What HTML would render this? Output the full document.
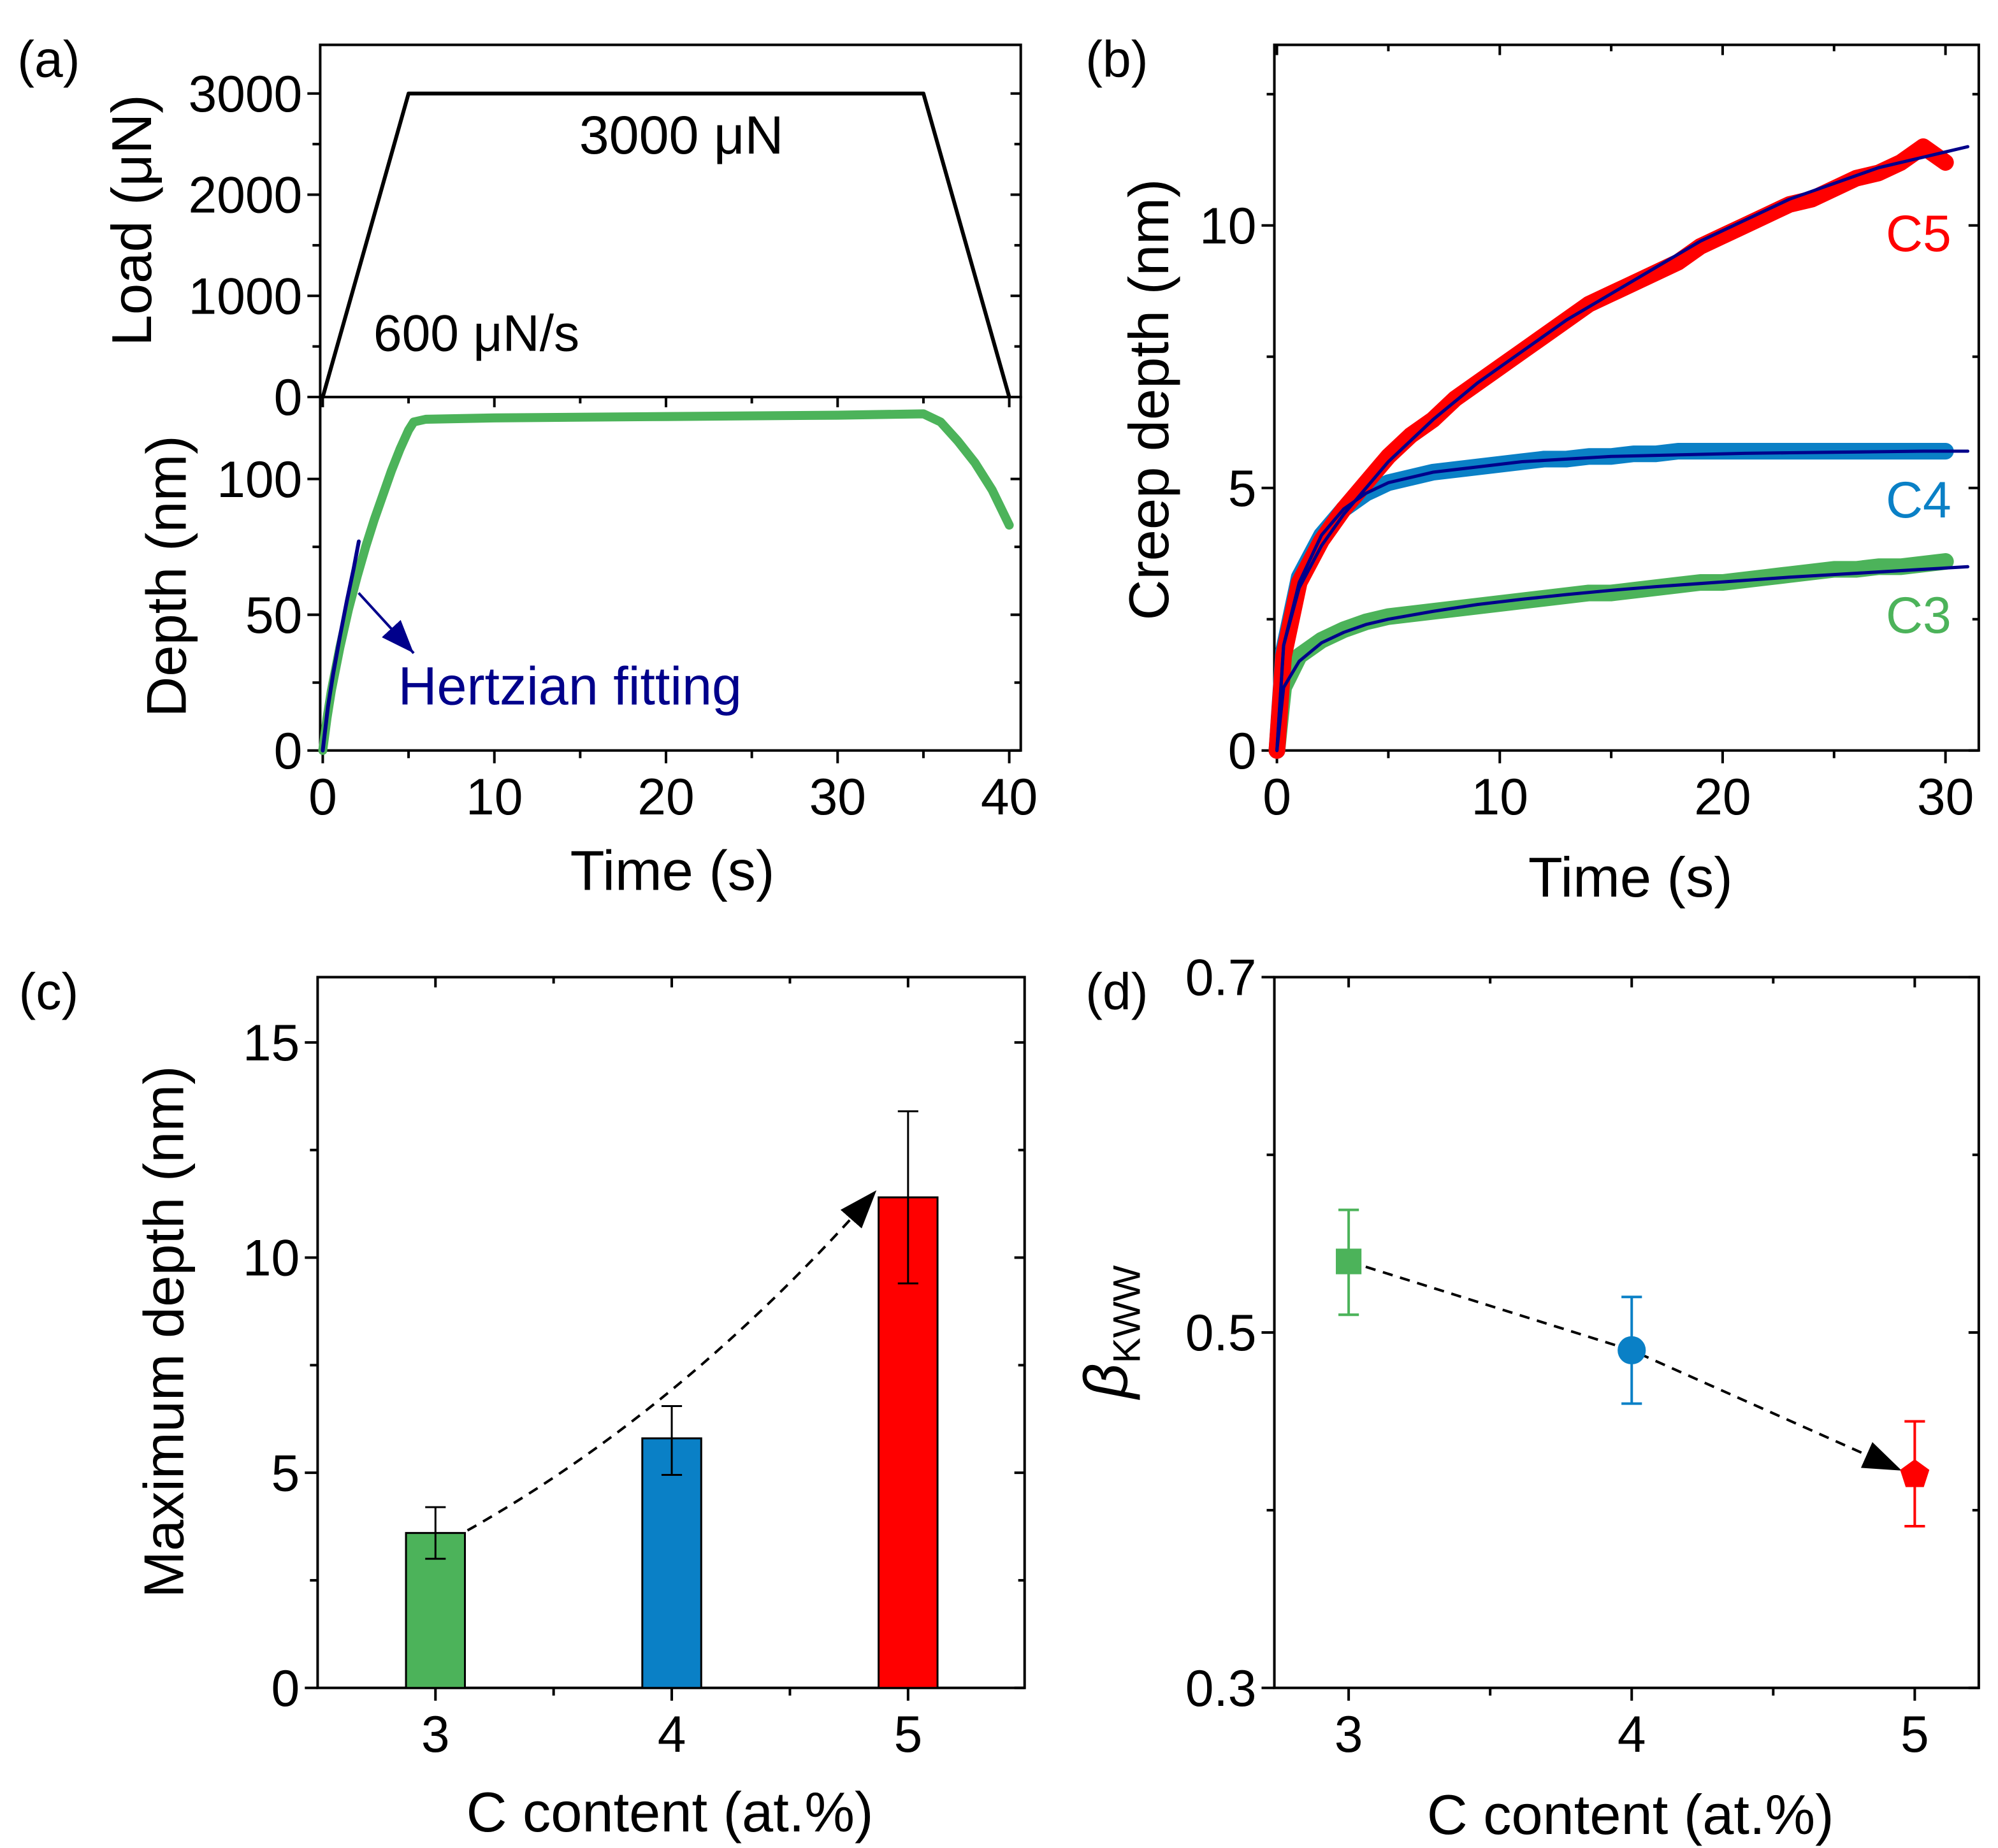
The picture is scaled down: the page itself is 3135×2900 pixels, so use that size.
<!DOCTYPE html>
<html><head><meta charset="utf-8"><style>
html,body{margin:0;padding:0;background:#fff}
svg{display:block;font-family:"Liberation Sans",Arial,sans-serif}
</style></head><body>
<svg id="fig" width="3135" height="2900" viewBox="0 0 1560 1443" xmlns="http://www.w3.org/2000/svg">
<g id="root" fill="none" stroke="#000" stroke-width="2"></g>
</svg>
<script>
// ---- Panel (a) data ----
const loadT=[0,5,35,40];
const loadV=[0,3000,3000,0];
const depthT=[0,0.25,0.5,1,1.5,2,2.5,3,3.5,4,4.5,5,5.3,6,10,20,30,35,36,37,38,39,40];
const depthV=[0,12,22,38,52,64,75,85,94,103,111,118,121,122,122.5,123,123.5,124,121,114,106,96,83];
const hertzT=[0,0.3,0.6,1,1.4,1.8,2.1];
const hertzV=[0,16,28,42,55,67,77];
// ---- Panel (b) data ----
const creepT=[0,0.3,1,2,3,4,5,6,7,8,9,10,11,12,13,14,15,16,17,18,19,20,21,22,23,24,25,26,27,28,29,30];
const c5=[0,1.8,3.2,4.0,4.6,5.1,5.6,6.0,6.3,6.7,7.0,7.3,7.6,7.9,8.2,8.5,8.7,8.9,9.1,9.3,9.6,9.8,10.0,10.2,10.4,10.5,10.7,10.9,11.0,11.2,11.5,11.2];
const c4=[0,1.9,3.3,4.1,4.6,4.9,5.1,5.2,5.3,5.35,5.4,5.45,5.5,5.55,5.55,5.6,5.6,5.65,5.65,5.7,5.7,5.7,5.7,5.7,5.7,5.7,5.7,5.7,5.7,5.7,5.7,5.7];
const c3=[0,1.2,1.8,2.1,2.3,2.45,2.55,2.6,2.65,2.7,2.75,2.8,2.85,2.9,2.95,3.0,3.0,3.05,3.1,3.15,3.2,3.2,3.25,3.3,3.35,3.4,3.45,3.45,3.5,3.5,3.55,3.6];
const fitT=[0,0.3,1,2,3,4,5,7,9,11,13,15,17,19,21,23,25,27,29,31];
const fit5=[0,2.0,3.1,3.9,4.5,5.0,5.5,6.3,7.0,7.6,8.2,8.7,9.2,9.7,10.1,10.5,10.8,11.1,11.3,11.5];
const fit4=[0,2.0,3.2,4.1,4.6,4.9,5.1,5.3,5.4,5.5,5.55,5.6,5.62,5.64,5.66,5.67,5.68,5.69,5.7,5.7];
const fit3=[0,1.2,1.7,2.05,2.25,2.4,2.5,2.65,2.78,2.88,2.97,3.05,3.12,3.18,3.24,3.3,3.35,3.4,3.45,3.5];
// ---- Panel (c) data ----
const cats=[3,4,5];
const maxDepth=[3.6,5.8,11.4];
const maxLo=[3.0,4.95,9.4];
const maxHi=[4.2,6.55,13.4];
// ---- Panel (d) data ----
const beta=[0.54,0.49,0.42];
const betaLo=[0.51,0.46,0.391];
const betaHi=[0.569,0.52,0.45];
const colors=['#4cb35a','#0a80c6','#ff0000'];

const NS='http://www.w3.org/2000/svg';
const root=document.getElementById('root');
function el(tag,attrs,parent,name,inter){const e=document.createElementNS(NS,tag);for(const k in attrs)e.setAttribute(k,attrs[k]);(parent||root).appendChild(e);


return e;}
function txt(x,y,s,size,opts,name){opts=opts||{};const t=el('text',{x:x,y:y,'font-size':size,fill:opts.fill||'#000',stroke:'none','text-anchor':opts.anchor||'middle'},root,name);if(opts.rot)t.setAttribute('transform','rotate(-90 '+x+' '+y+')');if(opts.html)t.innerHTML=s;else t.textContent=s;return t;}
function lin(d0,d1,p0,p1){return v=>p0+(v-d0)*(p1-p0)/(d1-d0);}
function poly(xs,ys,X,Y,attrs,name){return el('polyline',Object.assign({points:xs.map((v,i)=>X(v)+','+Y(ys[i])).join(' '),fill:'none','stroke-linejoin':'round','stroke-linecap':'round'},attrs),root,name);}
function frame(x0,y0,x1,y1,name){el('rect',{x:x0,y:y0,width:x1-x0,height:y1-y0,fill:'none',stroke:'#000','stroke-width':2},root,name);}
function yticks(vals,Y,x0,x1,labels,size,name,minors){vals.forEach((v,i)=>{el('line',{x1:x0-10,x2:x0,y1:Y(v),y2:Y(v)},root,name+'-tick');el('line',{x1:x1,x2:x1-8,y1:Y(v),y2:Y(v)},root,name+'-tick-right');if(labels)txt(x0-14,Y(v)+14,labels[i],size,{anchor:'end'},name+'-label');});
(minors||[]).forEach(v=>{el('line',{x1:x0-6,x2:x0,y1:Y(v),y2:Y(v)},root,name+'-minor');el('line',{x1:x1,x2:x1-5,y1:Y(v),y2:Y(v)},root,name+'-minor-right');});}
function xticks(vals,X,y0,y1,labels,size,name,minors){vals.forEach((v,i)=>{el('line',{x1:X(v),x2:X(v),y1:y0,y2:y0+10},root,name+'-tick');el('line',{x1:X(v),x2:X(v),y1:y1,y2:y1+8},root,name+'-tick-top');if(labels)txt(X(v),y0+50,labels[i],size,{},name+'-label');});
(minors||[]).forEach(v=>{el('line',{x1:X(v),x2:X(v),y1:y0,y2:y0+6},root,name+'-minor');el('line',{x1:X(v),x2:X(v),y1:y1,y2:y1+5},root,name+'-minor-top');});}

const defs=el('defs',{},root,'defs');
const mk2=el('marker',{id:'ahb',markerWidth:26,markerHeight:20,refX:26,refY:10,orient:'auto',markerUnits:'userSpaceOnUse',viewBox:'0 0 26 20'},defs,'arrowhead-blue');
el('path',{d:'M0,0 L26,10 L0,20 Z',fill:'#00008b',stroke:'none'},mk2,'arrowhead-blue-shape');
const mk3=el('marker',{id:'ahk',markerWidth:30,markerHeight:22,refX:28,refY:11,orient:'auto',markerUnits:'userSpaceOnUse',viewBox:'0 0 30 22'},defs,'arrowhead-black');
el('path',{d:'M0,0 L30,11 L0,22 Z',fill:'#000',stroke:'none'},mk3,'arrowhead-black-shape');

const TK=40, TT=44;
// ===== Panel (a) =====
const aX=lin(0,40,252,788);
const aYL=lin(0,3000,310,73);
const aYD=lin(0,100,586,374);
frame(250,35,797,310,'load-plot-frame');
frame(250,310,797,586,'depth-plot-frame');
yticks([0,1000,2000,3000],aYL,250,797,['0','1000','2000','3000'],TK,'load-y',[500,1500,2500]);
yticks([0,50,100],aYD,250,797,['0','50','100'],TK,'depth-y',[25,75]);
xticks([0,10,20,30,40],aX,586,310,['0','10','20','30','40'],TK,'time-x',[5,15,25,35]);
poly(loadT,loadV,aX,aYL,{stroke:'#000','stroke-width':3},'load-curve');
poly(depthT,depthV,aX,aYD,{stroke:'#4cb35a','stroke-width':7},'depth-curve');
poly(hertzT,hertzV,aX,aYD,{stroke:'#00008b','stroke-width':3},'hertzian-fit-curve');
el('line',{x1:280,y1:463,x2:323,y2:510,stroke:'#00008b','stroke-width':2,'marker-end':'url(#ahb)'},root,'hertzian-arrow');
txt(445,550,'Hertzian fitting',42,{fill:'#00008b'},'hertzian-label');
txt(532,120,'3000 μN',42,{},'hold-load-label');
txt(372,274,'600 μN/s',40,{},'loading-rate-label');
txt(118,172,'Load (μN)',TT,{rot:1},'load-y-title');
txt(145,450,'Depth (nm)',TT,{rot:1},'depth-y-title');
txt(525,695,'Time (s)',TT,{},'a-x-title');
txt(38,60,'(a)',40,{},'panel-a-label');

// ===== Panel (b) =====
const bX=lin(0,30,997,1519);
const bY=lin(0,10,586,176);
frame(995,35,1545,586,'creep-plot-frame');
yticks([0,5,10],bY,995,1545,['0','5','10'],TK,'creep-y',[2.5,7.5,12.5]);
xticks([0,10,20,30],bX,586,35,['0','10','20','30'],TK,'creep-x',[5,15,25]);
poly(creepT,c3,bX,bY,{stroke:'#4cb35a','stroke-width':13},'c3-data');
poly(creepT,c4,bX,bY,{stroke:'#0a80c6','stroke-width':13},'c4-data');
poly(creepT,c5,bX,bY,{stroke:'#ff0000','stroke-width':13},'c5-data');
poly(fitT,fit3,bX,bY,{stroke:'#00008b','stroke-width':2.5},'c3-fit');
poly(fitT,fit4,bX,bY,{stroke:'#00008b','stroke-width':2.5},'c4-fit');
poly(fitT,fit5,bX,bY,{stroke:'#00008b','stroke-width':2.5},'c5-fit');
txt(1498,196,'C5',40,{fill:'#ff0000'},'c5-label');
txt(1498,404,'C4',40,{fill:'#0a80c6'},'c4-label');
txt(1498,494,'C3',40,{fill:'#4cb35a'},'c3-label');
txt(912,312,'Creep depth (nm)',TT,{rot:1},'creep-y-title');
txt(1273,700,'Time (s)',TT,{},'b-x-title');
txt(872,60,'(b)',40,{},'panel-b-label');

// ===== Panel (c) =====
const cX=lin(3,5,340,709);
const cY=lin(0,15,1318,814);
frame(248,763,800,1318,'max-depth-frame');
yticks([0,5,10,15],cY,248,800,['0','5','10','15'],TK,'maxdepth-y',[2.5,7.5,12.5]);
xticks(cats,cX,1318,763,['3','4','5'],TK,'content-x-c',[3.5,4.5]);
cats.forEach((c,i)=>{
  el('rect',{x:cX(c)-23,y:cY(maxDepth[i]),width:46,height:cY(0)-cY(maxDepth[i]),fill:colors[i],stroke:'#000','stroke-width':1.5},root,'bar-c'+c);
  el('line',{x1:cX(c),x2:cX(c),y1:cY(maxLo[i]),y2:cY(maxHi[i]),'stroke-width':1.5},root,'errorbar-c'+c);
  el('line',{x1:cX(c)-8,x2:cX(c)+8,y1:cY(maxLo[i]),y2:cY(maxLo[i]),'stroke-width':1.5},root,'errorcap-low-c'+c);
  el('line',{x1:cX(c)-8,x2:cX(c)+8,y1:cY(maxHi[i]),y2:cY(maxHi[i]),'stroke-width':1.5},root,'errorcap-high-c'+c);
});
el('path',{d:'M'+(cX(3)+25)+','+(cY(maxDepth[0])-2)+' Q'+(cX(4)+10)+','+(cY(6.5))+' '+(cX(5)-26)+','+(cY(maxDepth[2])-4),fill:'none',stroke:'#000','stroke-width':2,'stroke-dasharray':'8,6','marker-end':'url(#ahk)'},root,'trend-arrow-c');
txt(143,1040,'Maximum depth  (nm)',TT,{rot:1},'maxdepth-y-title');
txt(523,1430,'C content (at.%)',TT,{},'c-x-title');
txt(38,788,'(c)',40,{},'panel-c-label');

// ===== Panel (d) =====
const dX=lin(3,5,1053,1495);
const dY=lin(0.3,0.7,1318,763);
frame(995,763,1545,1318,'beta-frame');
yticks([0.3,0.5,0.7],dY,995,1545,['0.3','0.5','0.7'],TK,'beta-y',[0.4,0.6]);
xticks(cats,dX,1318,763,['3','4','5'],TK,'content-x-d',[3.5,4.5]);
el('polyline',{points:dX(3)+','+dY(beta[0])+' '+dX(4)+','+dY(beta[1])+' '+(dX(5)-12)+','+(dY(beta[2])-4),fill:'none',stroke:'#000','stroke-width':2,'stroke-dasharray':'8,6','marker-end':'url(#ahk)'},root,'trend-line-d');
cats.forEach((c,i)=>{
  const x=dX(c);
  el('line',{x1:x,x2:x,y1:dY(betaLo[i]),y2:dY(betaHi[i]),stroke:colors[i],'stroke-width':2},root,'beta-errorbar-c'+c);
  el('line',{x1:x-8,x2:x+8,y1:dY(betaLo[i]),y2:dY(betaLo[i]),stroke:colors[i],'stroke-width':2},root,'beta-errorcap-low-c'+c);
  el('line',{x1:x-8,x2:x+8,y1:dY(betaHi[i]),y2:dY(betaHi[i]),stroke:colors[i],'stroke-width':2},root,'beta-errorcap-high-c'+c);
  const y=dY(beta[i]);
  if(i===0) el('rect',{x:x-10,y:y-10,width:20,height:20,fill:colors[i],stroke:'none'},root,'beta-point-c3');
  else if(i===1) el('circle',{cx:x,cy:y,r:11,fill:colors[i],stroke:'none'},root,'beta-point-c4');
  else { const r=12,pts=[];for(let k=0;k<5;k++){const a=-Math.PI/2+k*2*Math.PI/5;pts.push((x+r*Math.cos(a))+','+(y+r*Math.sin(a)));}
    el('polygon',{points:pts.join(' '),fill:colors[i],stroke:'none'},root,'beta-point-c5'); }
});
txt(880,1040,'<tspan font-style="italic">β</tspan><tspan font-size="30" dy="10">KWW</tspan>',48,{rot:1,html:1},'beta-y-title');
txt(1273,1432,'C content (at.%)',TT,{},'d-x-title');
txt(872,788,'(d)',40,{},'panel-d-label');
</script>
</body></html>
